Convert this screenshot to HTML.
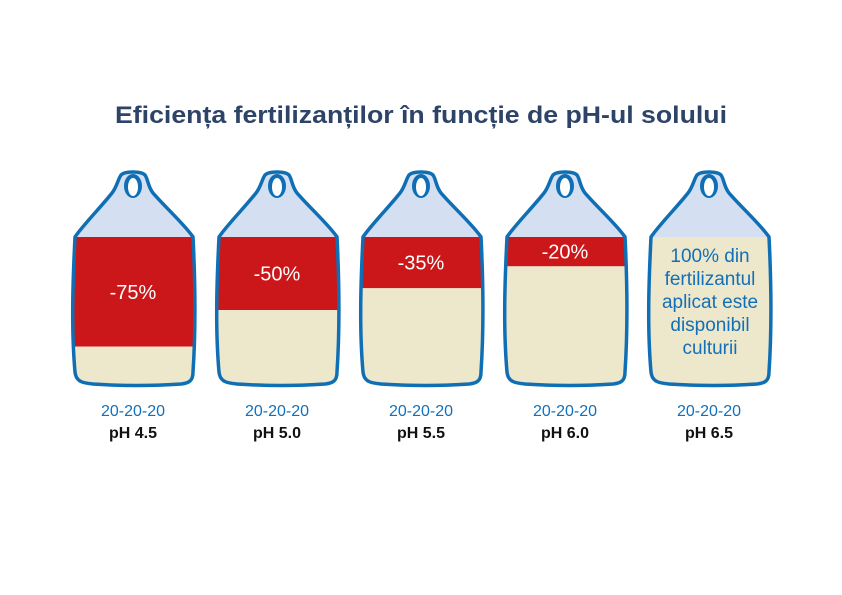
<!DOCTYPE html>
<html><head><meta charset="utf-8"><style>
html,body{margin:0;padding:0;background:#fff;width:842px;height:595px;overflow:hidden}
svg{display:block;font-family:"Liberation Sans",sans-serif}
</style></head><body>
<svg id="chart" width="842" height="595" viewBox="0 0 842 595">
<text x="421" y="123" text-anchor="middle" font-size="24" font-weight="bold" fill="#2d4468" textLength="612" lengthAdjust="spacingAndGlyphs">Eficiența fertilizanților în funcție de pH-ul solului</text>
<g id="bags"></g>
</svg>
<script>
const categories = ["pH 4.5","pH 5.0","pH 5.5","pH 6.0","pH 6.5"];
const formulas = ["20-20-20","20-20-20","20-20-20","20-20-20","20-20-20"];
const lossValues = [75, 50, 35, 20, 0];
const lossLabels = ["-75%","-50%","-35%","-20%",""];

const NS = "http://www.w3.org/2000/svg";
const g = document.getElementById('bags');
const x0 = 133, step = 144;
const bodyTop = 237, bodyBot = 383;
const xPos = i => x0 + i*step;
const yFill = v => bodyTop + (bodyBot - bodyTop) * v / 100;

function mk(tag, attrs){ const e = document.createElementNS(NS, tag); for (const k in attrs) e.setAttribute(k, attrs[k]); return e; }

const bagPath = "M-58,0 C-60,40 -62,90 -58,135 C-57,145 -50,146 -40,147 C-10,149 20,149 48,147 C57,146 60,143 60,135 C63,90 62,40 60,0 C52,-12 32,-30 20,-44 C15,-50 15,-58 12,-62 C8,-66 -8,-66 -12,-62 C-15,-58 -16,-50 -21,-44 C-32,-30 -50,-12 -58,0 Z";

categories.forEach((c, i) => {
  const cx = xPos(i);
  const bag = mk('g', {transform: `translate(${cx},${bodyTop})`});
  
  
  const cp = mk('clipPath', {id: 'clip'+i});
  cp.appendChild(mk('path', {d: bagPath}));
  bag.appendChild(cp);
  const grp = mk('g', {'clip-path': `url(#clip${i})`});
  grp.appendChild(mk('rect', {x:-70, y:-80, width:140, height:80, fill:'#d4dff2'}));
  grp.appendChild(mk('rect', {x:-70, y:0, width:140, height:160, fill:'#ede7cc'}));
  const h = yFill(lossValues[i]) - bodyTop;
  if (h > 0) {
    const r = mk('rect', {x:-70, y:0, width:140, height:h, fill:'#cb1719'});
    
    
    grp.appendChild(r);
  }
  bag.appendChild(grp);
  bag.appendChild(mk('path', {d: bagPath, fill:'none', stroke:'#0f6fb5', 'stroke-width':3.5, 'stroke-linejoin':'round'}));
  bag.appendChild(mk('ellipse', {cx:0, cy:-51, rx:9, ry:12, fill:'#0f6fb5'}));
  bag.appendChild(mk('ellipse', {cx:0, cy:-50, rx:5, ry:9, fill:'#fff'}));
  g.appendChild(bag);

  if (lossLabels[i]) {
    const t = mk('text', {x:cx, y: bodyTop + h/2 + 7, 'text-anchor':'middle', 'font-size':20, fill:'#fff'});
    t.textContent = lossLabels[i];
    
    
    g.appendChild(t);
  } else {
    const lines = ["100% din","fertilizantul","aplicat este","disponibil","culturii"];
    lines.forEach((l, k) => {
      const t = mk('text', {x:cx+1, y: 262 + k*23, 'text-anchor':'middle', 'font-size':19, fill:'#1370b8'});
      t.textContent = l;
      
      
      g.appendChild(t);
    });
  }
  const f = mk('text', {x:cx, y:416, 'text-anchor':'middle', 'font-size':16, fill:'#1370b8'});
  f.textContent = formulas[i];
  
  
  g.appendChild(f);
  const p = mk('text', {x:cx, y:438, 'text-anchor':'middle', 'font-size':16, 'font-weight':'bold', fill:'#111'});
  p.textContent = c;
  
  
  g.appendChild(p);
});
</script>
</body></html>
